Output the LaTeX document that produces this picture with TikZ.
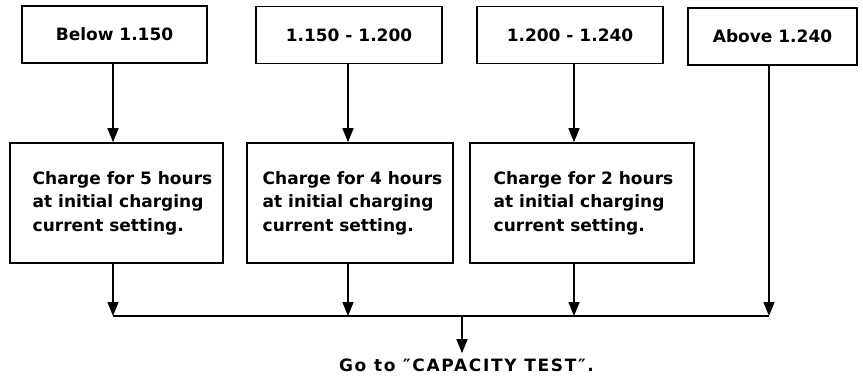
\documentclass[tikz,border=0pt]{standalone}
\usepackage{fontspec}
\setmainfont{DejaVu Sans}
\usetikzlibrary{arrows.meta}
\newcommand{\lowtext}[2]{\hspace*{#1}Charge for #2 hours\\\hspace*{#1}at initial charging\\\hspace*{#1}current setting.}
\begin{document}
\begin{tikzpicture}[x=1pt,y=-1pt,
  box/.style={draw, line width=1.6pt, inner sep=0pt,
    font=\bfseries\fontsize{17}{23.5}\selectfont},
  topbox/.style={box, minimum height=57pt},
  lowbox/.style={box, align=left, minimum height=120pt},
  conn/.style={line width=1.4pt, -{Triangle[length=14pt,width=11pt]}},
  bus/.style={line width=1.4pt},
  note/.style={font=\bfseries\fontsize{17}{20}\selectfont\addfontfeature{LetterSpace=10}, inner sep=0pt, anchor=base}
]
\useasboundingbox (0,0) rectangle (863,377);
% top boxes
\node[topbox, minimum width=185pt] (t1) at (114.5,34.5) {Below 1.150};
\node[topbox, minimum width=186pt] (t2) at (349,35) {1.150 - 1.200};
\node[topbox, minimum width=186pt] (t3) at (570,35) {1.200 - 1.240};
\node[topbox, minimum width=169pt] (t4) at (772.5,36.5) {Above 1.240};
% lower boxes
\node[lowbox, minimum width=213pt] (b1) at (116.5,203) {\lowtext{12pt}{5}};
\node[lowbox, minimum width=206pt] (b2) at (350,203) {\lowtext{5pt}{4}};
\node[lowbox, minimum width=224pt] (b3) at (582,203) {\lowtext{3pt}{2}};
% bus and output
\coordinate (busy) at (0,316);
\coordinate (a1) at (113,0);
\coordinate (a2) at (348,0);
\coordinate (a3) at (574,0);
\coordinate (a4) at (769,0);
\coordinate (j) at (462,316);
\node[note] (go) at (466.5,371) {Go to ″CAPACITY TEST″.};
% connectors top -> lower
\draw[conn] (a1 |- t1.south) -- (a1 |- b1.north);
\draw[conn] (a2 |- t2.south) -- (a2 |- b2.north);
\draw[conn] (a3 |- t3.south) -- (a3 |- b3.north);
% lower -> bus
\draw[conn] (a1 |- b1.south) -- (a1 |- busy);
\draw[conn] (a2 |- b2.south) -- (a2 |- busy);
\draw[conn] (a3 |- b3.south) -- (a3 |- busy);
\draw[conn] (a4 |- t4.south) -- (a4 |- busy);
\draw[bus] (a1 |- busy) -- (a4 |- busy);
\draw[conn] (j) -- ([yshift=5pt]j |- go.north);
\end{tikzpicture}
\end{document}
